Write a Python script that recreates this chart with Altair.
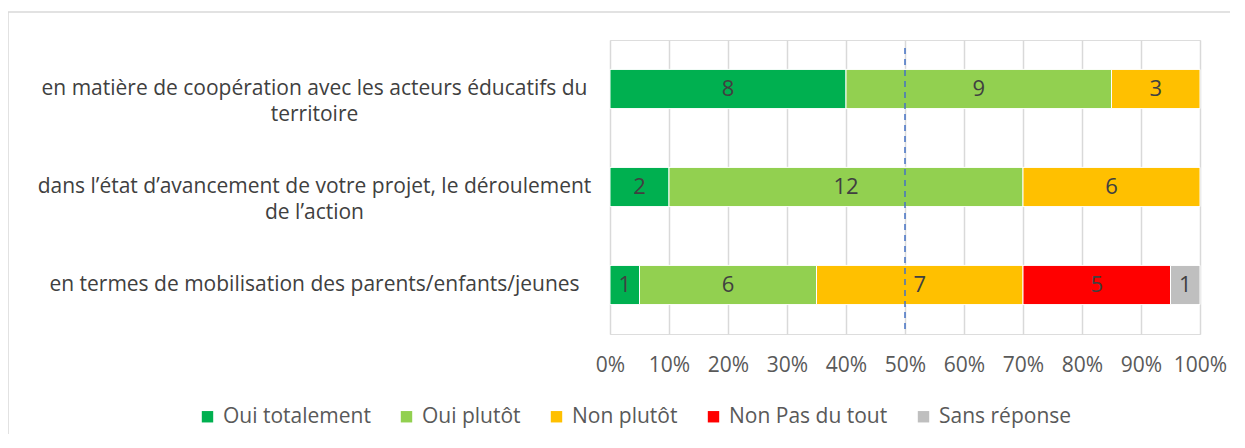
import altair as alt
import pandas as pd

categories = [
    "en matière de coopération avec les acteurs éducatifs du|territoire",
    "dans l’état d’avancement de votre projet, le déroulement|de l’action",
    "en termes de mobilisation des parents/enfants/jeunes",
]
responses = ["Oui totalement", "Oui plutôt", "Non plutôt", "Non Pas du tout", "Sans réponse"]
colors = ["#00B050", "#92D050", "#FFC000", "#FF0000", "#BFBFBF"]

oui_totalement = [8, 2, 1]
oui_plutot = [9, 12, 6]
non_plutot = [3, 6, 7]
non_pas_du_tout = [0, 0, 5]
sans_reponse = [0, 0, 1]

tick_values = [0, 0.1, 0.2, 0.3, 0.4, 0.5, 0.6, 0.7, 0.8, 0.9, 1.0]
reference_line = [0.5]

series = [oui_totalement, oui_plutot, non_plutot, non_pas_du_tout, sans_reponse]
rows = []
for ri, (resp, vals) in enumerate(zip(responses, series)):
    for ci, cat in enumerate(categories):
        if vals[ci] > 0:
            rows.append({"category": cat, "response": resp, "order": ri, "value": vals[ci]})
df = pd.DataFrame(rows)

FONT = "Open Sans"
FS = 21
W, H = 590, 294

base = alt.Chart(df).transform_stack(
    stack="value", groupby=["category"], as_=["v0", "v1"], offset="normalize",
    sort=[alt.SortField("order", order="ascending")],
).transform_calculate(mid="(datum.v0 + datum.v1) / 2")

y_enc = alt.Y(
    "category:N", sort=categories, title=None,
    scale=alt.Scale(paddingInner=0.6, paddingOuter=0.3),
    axis=alt.Axis(
        labelExpr="split(datum.label, '|')", labelAlign="center", labelBaseline="middle",
        labelPadding=296, labelLimit=800, labelLineHeight=26, ticks=False, domain=False,
        labelFont=FONT, labelFontSize=FS, labelColor="#404040",
    ),
)

bars = base.mark_bar(stroke="white", strokeWidth=1).encode(
    y=y_enc,
    x=alt.X(
        "v0:Q", title=None,
        scale=alt.Scale(domain=[0, 1], nice=False, zero=True),
        axis=alt.Axis(
            values=tick_values, format=".0%", grid=True, gridColor="#D9D9D9", gridWidth=1.5,
            domain=False, ticks=False, labelPadding=20, labelFont=FONT, labelFontSize=FS,
            labelColor="#595959", labelFlush=False,
        ),
    ),
    x2="v1:Q",
    color=alt.Color(
        "response:N", sort=responses, title=None,
        scale=alt.Scale(domain=responses, range=colors),
        legend=alt.Legend(
            orient="none", direction="horizontal", legendX=-413, legendY=366,
            symbolType="square", symbolSize=130, symbolStrokeWidth=0,
            labelFont=FONT, labelFontSize=FS, labelColor="#595959",
            labelOffset=5, columnPadding=25,
        ),
    ),
    order=alt.Order("order:Q"),
)

texts = base.mark_text(font=FONT, fontSize=22, color="#404040", baseline="middle").encode(
    y=alt.Y("category:N", sort=categories),
    x=alt.X("mid:Q"),
    text=alt.Text("value:Q"),
)

rule = alt.Chart(pd.DataFrame({"v": reference_line})).mark_rule(
    color="#4472C4", strokeDash=[6, 5], strokeWidth=1.5
).encode(x="v:Q", y=alt.value(8), y2=alt.value(H))

border = alt.Chart(alt.Data(values=[{}])).mark_rect(
    filled=False, stroke="#D9D9D9", strokeWidth=1.5
).encode(x=alt.value(-602), x2=alt.value(800), y=alt.value(-28), y2=alt.value(600))

chart = alt.layer(border, bars, texts, rule).properties(
    width=W, height=H,
    autosize=alt.AutoSizeParams(type="none"),
    padding={"left": 602, "top": 32, "right": 30, "bottom": 100},
).configure_view(stroke=None).configure(background="white")

chart.save("out.html", embed_options={"renderer": "svg", "actions": False})
